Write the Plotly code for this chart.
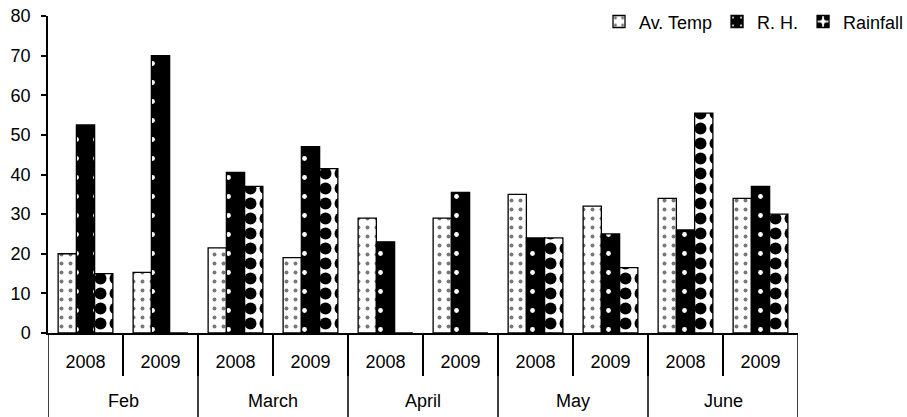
import plotly.graph_objects as go

months = ["Feb", "Feb", "March", "March", "April", "April", "May", "May", "June", "June"]
years = ["2008", "2009", "2008", "2009", "2008", "2009", "2008", "2009", "2008", "2009"]
av_temp = [20, 15.3, 21.5, 19, 29, 29, 35, 32, 34, 34]
rh = [52.5, 70, 40.5, 47, 23, 35.5, 24, 25, 26, 37]
rainfall = [15, 0, 37, 41.5, 0, 0, 24, 16.5, 55.5, 30]
y_ticks = [0, 10, 20, 30, 40, 50, 60, 70, 80]

FONT = "Liberation Sans, Arial, sans-serif"
FS = 18
idx = list(range(len(years)))

# group boundaries derived from the month list
groups = []
start = 0
for i in range(1, len(months) + 1):
    if i == len(months) or months[i] != months[start]:
        groups.append((months[start], start, i - 1))
        start = i

fig = go.Figure()
fig.add_trace(go.Bar(
    name="Av. Temp", x=idx, y=av_temp,
    marker=dict(color="white", line=dict(color="black", width=1.3),
                pattern=dict(shape=".", fgcolor="#777777", bgcolor="white",
                             size=9, solidity=0.15, fillmode="replace")),
))
fig.add_trace(go.Bar(
    name="R. H.", x=idx, y=rh,
    marker=dict(color="black", line=dict(color="black", width=1.3),
                pattern=dict(shape=".", fgcolor="white", bgcolor="black",
                             size=19, solidity=0.05, fillmode="replace")),
))
fig.add_trace(go.Bar(
    name="Rainfall", x=idx, y=rainfall,
    marker=dict(color="white", line=dict(color="black", width=1.3),
                pattern=dict(shape=".", fgcolor="black", bgcolor="white",
                             size=15, solidity=0.5, fillmode="replace")),
))

shapes = []
annotations = []
bounds = [groups[0][1] - 0.5] + [g[2] + 0.5 for g in groups]
for b in bounds:
    shapes.append(dict(type="line", xref="x", yref="paper", x0=b, x1=b,
                       y0=0, y1=-84 / 317, line=dict(color="black", width=1.5)))
for name, s, e in groups:
    annotations.append(dict(text=name, xref="x", yref="paper", x=(s + e) / 2,
                            y=-68 / 317, showarrow=False, yanchor="middle",
                            font=dict(family=FONT, size=FS, color="black")))

fig.update_layout(
    width=907, height=417,
    margin=dict(l=48, r=109, t=16, b=84, autoexpand=False),
    paper_bgcolor="white", plot_bgcolor="white",
    barmode="group", bargap=0.27, bargroupgap=0,
    font=dict(family=FONT, size=FS, color="black"),
    showlegend=True,
    legend=dict(orientation="h", x=1.148, xanchor="right", y=1.04, yanchor="top",
                font=dict(family=FONT, size=FS, color="black"),
                itemwidth=30, traceorder="normal", bgcolor="rgba(0,0,0,0)"),
    shapes=shapes, annotations=annotations,
)
fig.update_yaxes(
    range=[0, 80], tickvals=y_ticks, showgrid=False, zeroline=False,
    showline=True, linecolor="black", linewidth=1.5,
    ticks="outside", ticklen=5, tickcolor="black", tickwidth=1.5,
    ticklabelstandoff=7,
    tickfont=dict(family=FONT, size=FS, color="black"),
)
fig.update_xaxes(
    range=[-0.5, len(years) - 0.5], showgrid=False, zeroline=False,
    showline=True, linecolor="black", linewidth=1.5,
    tickvals=idx, ticktext=years, ticks="", ticklabelstandoff=12,
    tickfont=dict(family=FONT, size=FS, color="black"),
    minor=dict(tickvals=[i + 0.5 for i in idx[:-1]], ticks="outside", ticklen=41,
               tickcolor="black", tickwidth=1.5, showgrid=False),
)

fig.write_html("out.html")
